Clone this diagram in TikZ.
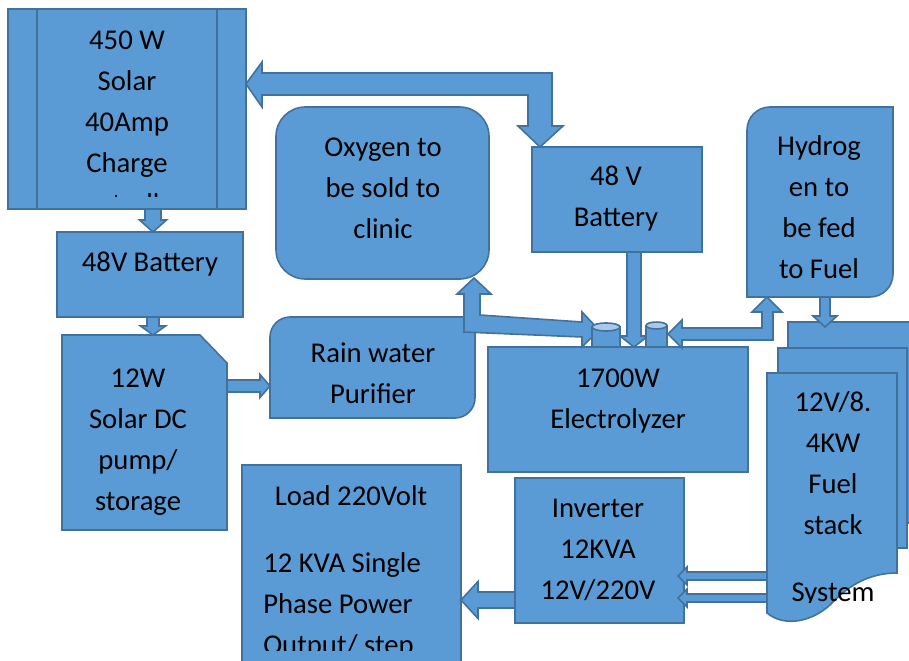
\documentclass[tikz,border=0pt]{standalone}
\usepackage{fontspec}
\setmainfont{Carlito}
\usetikzlibrary{calc,fit}
\definecolor{bfill}{HTML}{5B9BD5}
\definecolor{bline}{HTML}{41719C}
\definecolor{blight}{HTML}{A9C8EA}
% straight block arrow: #1 start, #2 tip, #3 shaft half width, #4 head half width, #5 head length (px)
\newcommand\blockarrow[5]{%
  \draw[blk] let \p1=#1, \p2=#2, \n1={atan2(\y2-\y1,\x2-\x1)}, \n2={veclen(\x2-\x1,\y2-\y1)} in
    ($(\p1)+(\n1+90:#3*0.75pt)$) --
    ($(\p1)+(\n1:\n2-#5*0.75pt)+(\n1+90:#3*0.75pt)$) --
    ($(\p1)+(\n1:\n2-#5*0.75pt)+(\n1+90:#4*0.75pt)$) --
    (\p2) --
    ($(\p1)+(\n1:\n2-#5*0.75pt)+(\n1-90:#4*0.75pt)$) --
    ($(\p1)+(\n1:\n2-#5*0.75pt)+(\n1-90:#3*0.75pt)$) --
    ($(\p1)+(\n1-90:#3*0.75pt)$) -- cycle;}
\tikzset{
  box/.style={draw=bline, fill=bfill, line width=1.2pt},
  edgeline/.style={draw=bline, line width=1.2pt},
  blk/.style={draw=bline, fill=bfill, line width=1.2pt, line join=miter},
  area/.style={inner sep=0pt, outer sep=0pt},
  txt/.style={inner sep=0pt, align=center, text=black, font=\fontsize{21.5}{30.75}\selectfont},
}
\begin{document}
\begin{tikzpicture}[x=0.75pt, y=-0.75pt]
\useasboundingbox (0,0) rectangle (909,660);

% ---------- boxes ----------
\node[box, area, fit={(8,9) (246,209)}] (solar) {};
\draw[edgeline] ($(solar.north west)+(29,0)$) -- ($(solar.south west)+(29,0)$);
\draw[edgeline] ($(solar.north east)+(-29,0)$) -- ($(solar.south east)+(-29,0)$);

\node[box, area, fit={(57,232) (243,317)}] (bat1) {};

\node[area, fit={(62,335) (227,530)}] (pump) {};
\draw[box] (pump.north west) -- ($(pump.north east)+(-27,0)$) -- ($(pump.north east)+(0,28)$)
  -- (pump.south east) -- (pump.south west) -- cycle;

\node[area, fit={(270,317) (475,418)}] (rain) {};
\draw[box] (270,418) -- (270,337) .. controls (270,326) and (279,317) .. (290,317) -- (475,317)
  -- (475,398) .. controls (475,409) and (466,418) .. (455,418) -- cycle;

\node[box, area, rounded corners=22pt, fit={(276,107) (489,279)}] (oxy) {};

\node[box, area, fit={(532,147) (702,252)}] (bat2) {};

\node[area, fit={(747,107) (893,297)}] (hyd) {};
\draw[box] (747,297) -- (747,130) .. controls (747,117.3) and (757.3,107) .. (770,107) -- (893,107)
  -- (893,274) .. controls (893,286.7) and (882.7,297) .. (870,297) -- cycle;

\node[box, area, fit={(488,347) (748,472)}] (elec) {};

% fuel stack (multi document)
\node[box, area, fit={(788,322) (930,523)}] (fuelback) {};
\node[box, area, fit={(778,348) (907,548)}] (fuelmid) {};
\node[area, fit={(767,373) (897,613)}] (fuel) {};
\draw[box] (767,373) -- (897,373) -- (897,573)
  .. controls (870,573) and (850,585) .. (835,600)
  .. controls (815,622) and (785,628) .. (767,613) -- cycle;

\node[box, area, fit={(515,478) (684,623)}] (inv) {};
\node[box, area, fit={(242,465) (461,680)}] (load) {};

% ---------- straight arrows ----------
\blockarrow{($(solar.south)+(26,0)$)}{($(bat1.north)+(3,0)$)}{8}{13.5}{12}
\blockarrow{($(bat1.south)+(3,0)$)}{($(pump.north)+(8.5,0)$)}{6}{12.5}{9}
\blockarrow{($(pump.east)+(0,-46.5)$)}{($(rain.west)+(0,18.5)$)}{6}{11.5}{10}
\blockarrow{($(bat2.south)+(17,0)$)}{($(elec.north)+(16,0)$)}{7}{14}{11}
\blockarrow{($(hyd.south)+(5,0)$)}{($(fuelback.north)+(-34,5)$)}{5}{12}{11}
\blockarrow{($(fuel.west)+(0,83)$)}{($(inv.east)+(-6,25.5)$)}{4}{9}{9}
\blockarrow{($(fuel.west)+(0,105)$)}{($(inv.east)+(-6,47.5)$)}{4}{9}{9}
\blockarrow{($(inv.west)+(0,49.5)$)}{($(load.east)+(0,27.5)$)}{8}{18.5}{17}

% ---------- bent double arrows ----------
\draw[blk] (246,84) -- (262,62) -- (262,73) -- (552,73) -- (552,126) -- (563,126) -- (540,147)
  -- (518,126) -- (528,126) -- (528,95) -- (262,95) -- (262,107) -- cycle;
\draw[blk] (474,278) -- (491,294) -- (480,294) -- (480,315) -- (582,322) -- (582,312) -- (599,330)
  -- (582,347) -- (582,337) -- (464,332) -- (464,294) -- (457,294) -- cycle;
\draw[blk] (668,334) -- (682,320) -- (682,328) -- (762,328) -- (762,312) -- (752,312) -- (767,297)
  -- (782,312) -- (773,312) -- (773,340) -- (682,340) -- (682,348) -- cycle;

% ---------- cylinders on electrolyzer ----------
\draw[box] (592,327) rectangle (620,347);
\draw[box, fill=blight] (606,327) ellipse [x radius=10.5pt, y radius=3pt];
\draw[box] (646,325.5) rectangle (667,347);
\draw[box, fill=blight] (656.5,325.5) ellipse [x radius=7.9pt, y radius=2.6pt];

% ---------- texts ----------
\begin{scope}
  \clip (37,9) rectangle (217,196);
  \node[txt] (solarT) at (127,122.5) {450 W\\Solar\\40Amp\\Charge\\controller};
\end{scope}
\node[txt] (bat1T) at (150,264) {48V Battery};
\node[txt] (pumpT) at (138,442.5) {12W\\Solar DC\\pump/\\storage};
\node[txt] (rainT) at (373,373.5) {Rain water\\Purifier};
\node[txt] (oxyT) at (383,188) {Oxygen to\\be sold to\\clinic};
\node[txt] (bat2T) at (616,199) {48 V\\Battery};
\node[txt] (elecT) at (618,401) {1700W\\Electrolyzer};
\node[txt] (hydT) at (819,207) {Hydrog\\en to\\be fed\\to Fuel};
\begin{scope}
  \clip (767,373) rectangle (897,602);
  \node[txt] (fuelT) at (833,499) {12V/8.\\4KW\\Fuel\\stack\\[19.5pt]System};
\end{scope}
\node[txt] (invT) at (598,549.5) {Inverter\\12KVA\\12V/220V};
\node[txt] (loadT1) at (351,496) {Load 220Volt};
\begin{scope}
  \clip (242,465) rectangle (461,650);
  \node[txt, align=left, anchor=west] (loadT2) at (263,606) {12 KVA Single\\Phase Power\\Output/ step};
\end{scope}
\end{tikzpicture}
\end{document}
